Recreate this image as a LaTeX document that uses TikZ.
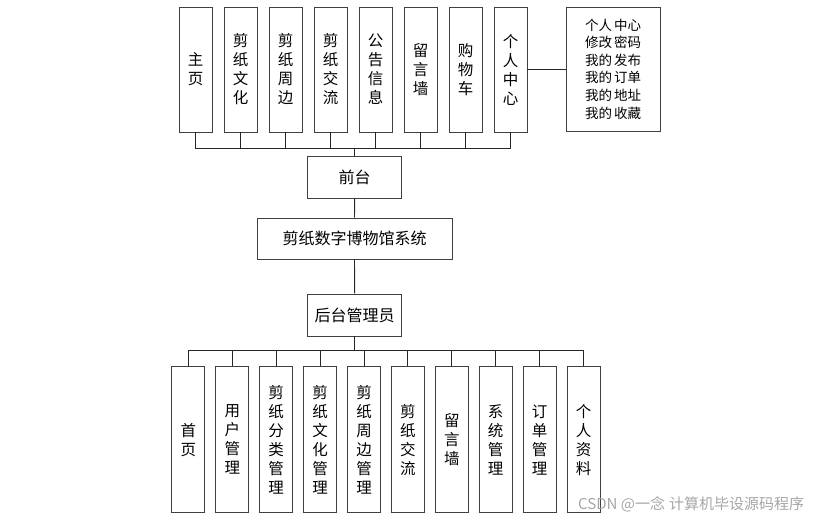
\documentclass[tikz,border=0pt]{standalone}
\usepackage{fontspec}
\setmainfont{Noto Sans CJK SC}
\begin{document}
\begin{tikzpicture}[x=1pt,y=-1pt,
  box/.style={draw=black!75, line width=0.9pt, inner sep=0pt, align=center, fill=white},
  vt/.style={box, minimum width=33pt, font=\fontsize{15.5}{19}\selectfont},
  topbox/.style={vt, minimum height=125pt},
  botbox/.style={vt, minimum height=146pt},
  hbox/.style={box, minimum height=42pt, font=\fontsize{16}{19}\selectfont},
  conn/.style={draw=black!85, line width=0.9pt},
  wm/.style={font=\fontsize{15}{16}\selectfont, text=black!35, inner sep=0pt, anchor=west}]
\useasboundingbox (0,0) rectangle (822,521);
% top row
\foreach \t [count=\i from 0] in {主\\页,剪\\纸\\文\\化,剪\\纸\\周\\边,剪\\纸\\交\\流,公\\告\\信\\息,留\\言\\墙,购\\物\\车,个\\人\\中\\心}{
  \node[topbox] (t\i) at ({195.5+45*\i},69.5) {\t};
}
\node[box, minimum width=94pt, minimum height=124pt, font=\fontsize{13.5}{17.6}\selectfont] (pc) at (613,69) {个人\hspace{2pt}中心\\修改\hspace{2pt}密码\\我的\hspace{2pt}发布\\我的\hspace{2pt}订单\\我的\hspace{2pt}地址\\我的\hspace{2pt}收藏};
% middle
\node[hbox, minimum width=94pt] (qt) at (354.7,177) {前台};
\node[hbox, minimum width=195pt, minimum height=41pt] (sys) at (354.5,238.5) {剪纸数字博物馆系统};
\node[hbox, minimum width=94pt] (ht) at (354.7,315) {后台管理员};
% bottom row
\foreach \t [count=\i from 0] in {首\\页,用\\户\\管\\理,剪\\纸\\分\\类\\管\\理,剪\\纸\\文\\化\\管\\理,剪\\纸\\周\\边\\管\\理,剪\\纸\\交\\流,留\\言\\墙,系\\统\\管\\理,订\\单\\管\\理,个\\人\\资\\料}{
  \node[botbox] (b\i) at ({188.4+43.9*\i},439.8) {\t};
}
% connectors
\foreach \i in {0,...,7}{
  \draw[conn] (t\i.south) -- ++(0,16) -| (qt.north);
}
\draw[conn] (t7.east) -- (t7.east -| pc.west);
\draw[conn] (qt.south) -- (sys.north);
\draw[conn] (sys.south) -- (ht.north);
\foreach \i in {0,...,9}{
  \draw[conn] (b\i.north) -- ++(0,-15.7) -| (ht.south);
}
% watermark
\node[wm] (wmk) at (578,504) {CSDN @一念\hspace{4pt}计算机毕设源码程序};
\end{tikzpicture}
\end{document}
